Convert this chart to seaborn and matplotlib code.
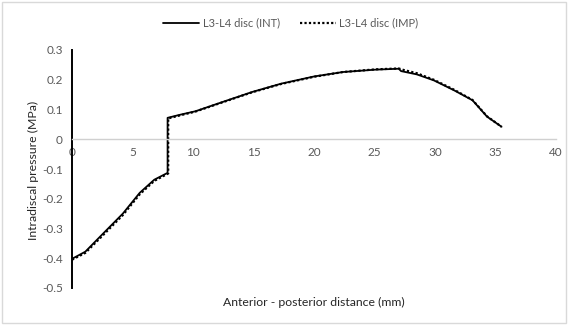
import matplotlib
matplotlib.use("Agg")
import matplotlib.pyplot as plt
import seaborn as sns
import pandas as pd
from matplotlib.patches import Rectangle

# distance (mm) and pressure (MPa)
x_int = [0, 1.1, 2.5, 4.2, 5.6, 6.8, 7.9, 7.9, 9.0, 10.2, 12.5, 14.9, 17.3, 20.0,
         22.4, 25.1, 27.0, 27.2, 28.5, 29.9, 31.6, 33.1, 34.3, 35.5]
y_int = [-0.402, -0.378, -0.32, -0.25, -0.18, -0.136, -0.113, 0.072, 0.083, 0.094,
         0.126, 0.159, 0.187, 0.211, 0.226, 0.234, 0.237, 0.229, 0.218, 0.198,
         0.164, 0.131, 0.076, 0.042]
x_imp = [0, 1.1, 2.5, 4.2, 5.6, 6.8, 7.95, 7.95, 9.0, 10.2, 12.5, 14.9, 17.3, 20.0,
         22.4, 25.1, 27.0, 27.3, 28.5, 29.9, 31.6, 33.1, 34.3, 35.5]
y_imp = [-0.405, -0.382, -0.325, -0.255, -0.185, -0.14, -0.115, 0.07, 0.081, 0.093,
         0.125, 0.158, 0.186, 0.21, 0.226, 0.235, 0.238, 0.234, 0.222, 0.2,
         0.166, 0.132, 0.077, 0.042]
series_names = ["L3-L4 disc (INT)", "L3-L4 disc (IMP)"]
x_ticks = [0, 5, 10, 15, 20, 25, 30, 35, 40]
y_ticks = [-0.5, -0.4, -0.3, -0.2, -0.1, 0, 0.1, 0.2, 0.3]
y_tick_labels = ["-0.5", "-0.4", "-0.3", "-0.2", "-0.1", "0", "0.1", "0.2", "0.3"]

sns.set_style("white")
plt.rcParams['font.family'] = ['Lato', 'DejaVu Sans']

fig = plt.figure(figsize=(5.68, 3.25), dpi=100)
ax = fig.add_axes([72/568, 1-288/325, (556-72)/568, (288-50)/325])

df_int = pd.DataFrame({"x": x_int, "y": y_int})
df_imp = pd.DataFrame({"x": x_imp, "y": y_imp})
sns.lineplot(data=df_int, x="x", y="y", sort=False, estimator=None, ax=ax,
             color="black", linewidth=1.3, label=series_names[0])
sns.lineplot(data=df_imp, x="x", y="y", sort=False, estimator=None, ax=ax,
             color="black", linewidth=1.6, linestyle=(0, (1, 1)), label=series_names[1])

ax.set_xlim(0, 40)
ax.set_ylim(-0.5, 0.3)
ax.set_xticks(x_ticks)
ax.set_xticklabels([str(t) for t in x_ticks])
ax.set_yticks(y_ticks)
ax.set_yticklabels(y_tick_labels)

grey = "#595959"
ax.spines['top'].set_visible(False)
ax.spines['right'].set_visible(False)
ax.spines['bottom'].set_position(('data', 0))
ax.spines['bottom'].set_color("#d0d0d0")
ax.spines['bottom'].set_linewidth(1.0)
ax.spines['left'].set_color("black")
ax.spines['left'].set_linewidth(1.4)
ax.tick_params(axis='both', length=0, labelsize=8.5, labelcolor=grey)
ax.tick_params(axis='x', pad=5.5)
ax.tick_params(axis='y', pad=6.5)

ax.set_xlabel("")
ax.set_ylabel("")
fig.text(314/568, 1-302/325, "Anterior - posterior distance (mm)", ha="center",
         va="center", fontsize=8.8, color="#262626")
fig.text(33/568, 1-170/325, "Intradiscal pressure (MPa)", ha="center", va="center",
         rotation=90, fontsize=8.8, color="#262626")

ax.get_legend().remove()
handles, labels = ax.get_legend_handles_labels()
fig.legend(handles, labels, loc="center", bbox_to_anchor=(291/568, 1-23/325),
           ncol=2, frameon=False, fontsize=8, labelcolor=grey,
           handlelength=3.2, columnspacing=1.8, handletextpad=0.35)

fig.patches.append(Rectangle((0.004, 0.005), 0.992, 0.99, transform=fig.transFigure,
                             fill=False, edgecolor="#d9d9d9", linewidth=1.0))

fig.savefig("out.png", dpi=100)
